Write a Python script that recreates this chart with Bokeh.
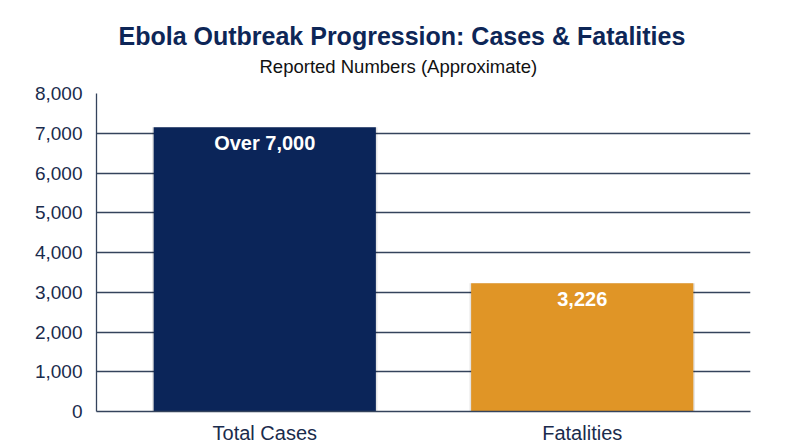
from bokeh.plotting import figure
from bokeh.models import FactorRange, Range1d, NumeralTickFormatter, Title, ColumnDataSource, FixedTicker
from bokeh.core.properties import value
from bokeh.embed import file_html
from bokeh.resources import INLINE

categories = ["Total Cases", "Fatalities"]
counts = [7150, 3226]
bar_labels = ["Over 7,000", "3,226"]
bar_colors = ["#0b2559", "#e09526"]
y_ticks = [0, 1000, 2000, 3000, 4000, 5000, 6000, 7000, 8000]

FONT = "Liberation Sans"
NAVY = "#1a2b4c"
GRID = "#34435c"

src = ColumnDataSource(dict(cat=categories, val=counts, lab=bar_labels, col=bar_colors))

p = figure(frame_width=654, frame_height=318, output_backend="svg", toolbar_location=None,
           x_range=FactorRange(*categories, range_padding=0.03),
           y_range=Range1d(0, 8000),
           min_border_left=96, min_border_right=34, min_border_top=93, min_border_bottom=0,
           title=None)

sub = Title(text="Reported Numbers (Approximate)", align="left", text_font=FONT,
            text_font_size="18.5px", text_font_style="normal", text_color="#111111",
            standoff=33, offset=163)
p.add_layout(sub, "above")
main = Title(text="Ebola Outbreak Progression: Cases & Fatalities", align="left", text_font=FONT,
             text_font_size="25px", text_font_style="bold", text_color="#0d2657",
             standoff=-24, offset=22)
p.add_layout(main, "above")

# soft shadow
p.vbar(x="cat", top="val", width=0.71, source=src, fill_color="#000000", fill_alpha=0.10,
       line_color=None)
p.vbar(x="cat", top="val", width=0.70, source=src, fill_color="col", line_color=None)

p.text(x="cat", y="val", text="lab", source=src, text_align="center", text_baseline="middle",
       y_offset=16, text_color="white", text_font=value(FONT), text_font_size="20px",
       text_font_style="bold")

p.outline_line_color = None
p.background_fill_color = "white"
p.border_fill_color = "white"

p.xgrid.grid_line_color = None
p.ygrid.grid_line_color = GRID
p.ygrid.grid_line_width = 1.3
p.ygrid.level = "underlay"

p.yaxis.ticker = FixedTicker(ticks=y_ticks)
p.yaxis.formatter = NumeralTickFormatter(format="0,0")
for ax in (p.xaxis[0], p.yaxis[0]):
    ax.axis_line_color = GRID
    ax.axis_line_width = 1.3
    ax.major_tick_line_color = None
    ax.minor_tick_line_color = None
    ax.major_label_text_font = FONT
    ax.major_label_text_color = NAVY
p.yaxis.major_label_text_font_size = "19px"
p.yaxis.major_label_standoff = 8
p.xaxis.major_label_text_font_size = "20px"
p.xaxis.major_label_standoff = 4

open("out.html", "w").write(file_html(p, INLINE))
